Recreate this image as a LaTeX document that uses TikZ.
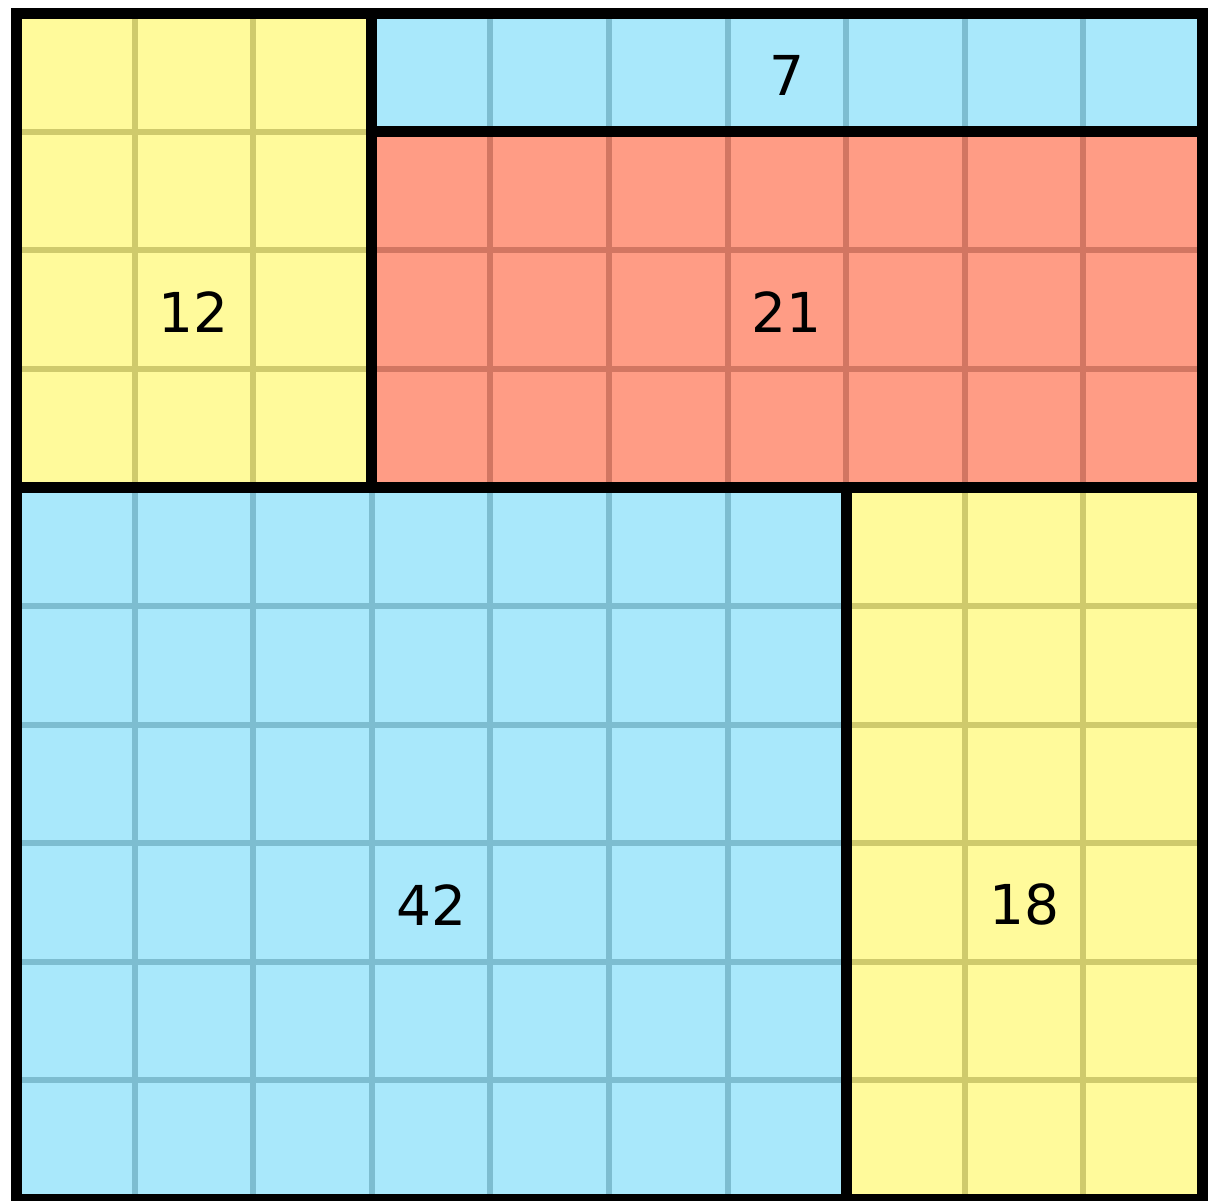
\documentclass[tikz,border=0pt]{standalone}
\usepackage{fontspec}
\setmainfont{DejaVu Sans}
\definecolor{yel}{HTML}{FFFA9B}
\definecolor{blu}{HTML}{A9E8FB}
\definecolor{redc}{HTML}{FF9C85}
\definecolor{yelg}{HTML}{CFCA6C}
\definecolor{blug}{HTML}{7DBDD0}
\definecolor{redg}{HTML}{D27662}
\tikzset{
  gridline/.style={line width=6pt},
  border/.style={line width=11pt, black},
  lbl/.style={font=\fontsize{55}{58}\selectfont, text=black}
}
\begin{document}
\begin{tikzpicture}[x=1pt,y=-1pt]
\useasboundingbox (0,0) rectangle (1214,1200);
\begin{scope}[shift={(16,13)}, x=118.6pt, y=-118.6pt]
  % fills
  \fill[yel] (0,0) rectangle (3,4);
  \fill[blu] (3,0) rectangle (10,1);
  \fill[redc] (3,1) rectangle (10,4);
  \fill[blu] (0,4) rectangle (7,10);
  \fill[yel] (7,4) rectangle (10,10);
  % grid lines
  \foreach \i in {1,2} \draw[gridline, yelg] (\i,0) -- (\i,4);
  \foreach \j in {1,2,3} \draw[gridline, yelg] (0,\j) -- (3,\j);
  \foreach \i in {4,...,9} \draw[gridline, blug] (\i,0) -- (\i,1);
  \foreach \i in {4,...,9} \draw[gridline, redg] (\i,1) -- (\i,4);
  \foreach \j in {2,3} \draw[gridline, redg] (3,\j) -- (10,\j);
  \foreach \i in {1,...,6} \draw[gridline, blug] (\i,4) -- (\i,10);
  \foreach \j in {5,...,9} \draw[gridline, blug] (0,\j) -- (7,\j);
  \foreach \i in {8,9} \draw[gridline, yelg] (\i,4) -- (\i,10);
  \foreach \j in {5,...,9} \draw[gridline, yelg] (7,\j) -- (10,\j);
  % borders
  \draw[border] (0,0) rectangle (10,10);
  \draw[border] (3,0) -- (3,4);
  \draw[border] (3,1) -- (10,1);
  \draw[border] (0,4) -- (10,4);
  \draw[border] (7,4) -- (7,10);
  % labels
  \node[lbl] (l7) at (6.5,0.53) {7};
  \node[lbl] (l12) at (1.5,2.52) {12};
  \node[lbl] (l21) at (6.5,2.52) {21};
  \node[lbl] (l42) at (3.5,7.52) {42};
  \node[lbl] (l18) at (8.5,7.52) {18};
\end{scope}
\end{tikzpicture}
\end{document}
